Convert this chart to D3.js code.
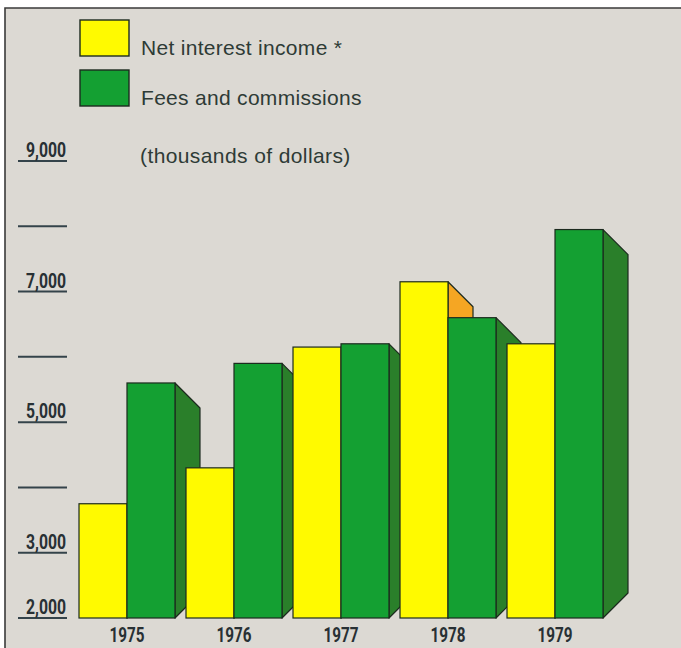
<!DOCTYPE html>
<html>
<head>
<meta charset="utf-8">
<script src="https://cdn.jsdelivr.net/npm/d3@7"></script>
<style>
  html, body { margin: 0; padding: 0; background: #ffffff; }
  svg { display: block; }
</style>
</head>
<body>
<script>
// Income by year, thousands of dollars
const years = ["1975", "1976", "1977", "1978", "1979"];
const netInterestIncome = [3750, 4300, 6150, 7150, 6200];
const feesAndCommissions = [5600, 5900, 6200, 6600, 7950];
const yTickValues = [2000, 3000, 4000, 5000, 6000, 7000, 8000, 9000];
const yLabeledTicks = [2000, 3000, 5000, 7000, 9000];
const seriesNames = ["Net interest income *", "Fees and commissions"];
const unitNote = "(thousands of dollars)";

const W = 681, H = 648;
const colors = {
  bg: "#dcd9d3",
  yellow: "#fffa00",
  yellowSide: "#f5a623",
  green: "#14a032",
  greenSide: "#2a7f2a",
  outline: "#1c2a1e",
  text: "#2e3b36",
  num: "#283034",
  axis: "#34434a"
};

const svg = d3.select("body").append("svg")
  .attr("width", W).attr("height", H);

// paper panel with top and left edges
svg.append("rect").attr("x", 5).attr("y", 8).attr("width", W - 5).attr("height", H - 8)
  .attr("fill", colors.bg);
svg.append("path").attr("d", `M5,${H} L5,8 L${W},8`)
  .attr("fill", "none").attr("stroke", "#3a3a3a").attr("stroke-width", 1.6);

const y = d3.scaleLinear().domain([2000, 9000]).range([618, 161]);
const x = d3.scaleBand().domain(years).range([79, 603]).paddingInner(0.103).paddingOuter(0);
const xs = d3.scaleBand().domain(["net", "fees"]).range([0, x.bandwidth()]);

const depth = 25;
const numFont = "Roboto, 'Liberation Sans', sans-serif";
const regular = "'Liberation Sans', Arial, sans-serif";

// y axis: short rules with labels sitting on them (condensed figures)
const yAxis = svg.append("g");
yTickValues.forEach(v => {
  yAxis.append("line")
    .attr("x1", 18).attr("x2", 67)
    .attr("y1", y(v)).attr("y2", y(v))
    .attr("stroke", colors.axis).attr("stroke-width", 2);
  if (yLabeledTicks.includes(v)) {
    yAxis.append("text")
      .attr("x", 66).attr("y", y(v) - 4)
      .attr("text-anchor", "end")
      .attr("font-family", numFont)
      .attr("font-weight", "bold")
      .attr("font-size", 20)
      .attr("textLength", 40)
      .attr("lengthAdjust", "spacingAndGlyphs")
      .attr("fill", colors.num)
      .text(d3.format(",")(v));
  }
});

// bars with a side face, drawn left to right so each pair covers the previous side
const base = y(2000);
const bars = [];
years.forEach((yr, i) => {
  bars.push({ x: x(yr) + xs("net"), w: xs.bandwidth(), v: netInterestIncome[i], front: colors.yellow, side: colors.yellowSide });
  bars.push({ x: x(yr) + xs("fees"), w: xs.bandwidth(), v: feesAndCommissions[i], front: colors.green, side: colors.greenSide });
});

const g = svg.append("g");
bars.forEach(b => {
  const top = y(b.v);
  const x1 = b.x + b.w;
  g.append("path")
    .attr("d", `M${x1},${top} L${x1 + depth},${top + depth} L${x1 + depth},${base - depth} L${x1},${base} Z`)
    .attr("fill", b.side).attr("stroke", colors.outline).attr("stroke-width", 1.2)
    .attr("stroke-linejoin", "round");
  g.append("rect")
    .attr("x", b.x).attr("y", top).attr("width", b.w).attr("height", base - top)
    .attr("fill", b.front).attr("stroke", colors.outline).attr("stroke-width", 1.2);
});

// year labels
svg.append("g").selectAll("text").data(years).join("text")
  .attr("x", d => x(d) + x.bandwidth() / 2)
  .attr("y", 642)
  .attr("text-anchor", "middle")
  .attr("font-family", numFont)
  .attr("font-weight", "bold")
  .attr("font-size", 21)
  .attr("textLength", 35)
  .attr("lengthAdjust", "spacingAndGlyphs")
  .attr("fill", colors.num)
  .text(d => d);

// legend
const legend = svg.append("g");
const swatch = [colors.yellow, colors.green];
seriesNames.forEach((name, i) => {
  legend.append("rect")
    .attr("x", 80).attr("y", 20 + i * 50).attr("width", 49).attr("height", 36)
    .attr("fill", swatch[i]).attr("stroke", colors.outline).attr("stroke-width", 1.4);
  legend.append("text")
    .attr("x", 141).attr("y", 55 + i * 50)
    .attr("font-family", regular)
    .attr("font-size", 21)
    .attr("letter-spacing", 0.3)
    .attr("fill", colors.text)
    .text(name);
});
legend.append("text")
  .attr("x", 140).attr("y", 163)
  .attr("font-family", regular)
  .attr("font-size", 21)
  .attr("letter-spacing", 0.4)
  .attr("fill", colors.text)
  .text(unitNote);
</script>
</body>
</html>
